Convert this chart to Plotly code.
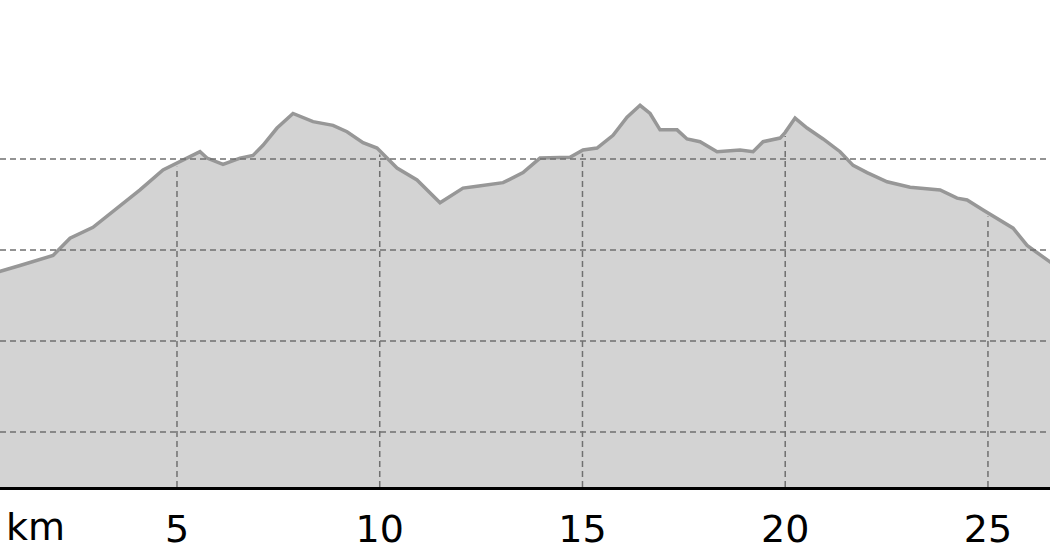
import numpy as np
import plotly.graph_objects as go

# distance along the route (km) and elevation (m)
distance_km = [0.0, 0.635, 1.128, 1.943, 2.362, 2.929, 3.594, 4.088, 4.655, 5.074,
               5.567, 5.740, 6.135, 6.554, 6.875, 7.121, 7.467, 7.861, 8.355, 8.848,
               9.193, 9.588, 9.933, 10.426, 10.919, 11.487, 12.054, 12.399, 13.041, 13.534,
               13.953, 14.693, 15.014, 15.359, 15.754, 16.099, 16.420, 16.667, 16.913, 17.333,
               17.579, 17.900, 18.319, 18.886, 19.207, 19.454, 19.873, 19.996, 20.243, 20.539,
               20.934, 21.353, 21.674, 22.019, 22.512, 23.080, 23.819, 24.239, 24.485, 24.880,
               25.299, 25.620, 25.965, 26.532, 26.9]
elevation_m = [568, 576, 583, 594, 613, 625, 649, 666, 688, 697,
               708, 701, 694, 701, 704, 715, 734, 750, 741, 737,
               730, 718, 712, 690, 677, 652, 668, 670, 674, 685,
               701, 702, 710, 712, 726, 746, 759, 750, 732, 732,
               722, 719, 708, 710, 708, 719, 723, 729, 745, 734,
               722, 708, 693, 685, 675, 669, 666, 657, 655, 644,
               633, 624, 605, 586, 575]

x_ticks = [5, 10, 15, 20, 25]
y_grid = [400, 500, 600, 700]

x_range = [0.635, 26.53]
y_range = [339.6, 874.7]

grid_style = dict(color="#707070", width=1.5, dash="6px,4px")

fig = go.Figure()

# elevation profile
fig.add_trace(go.Scatter(
    x=distance_km, y=elevation_m,
    mode="lines",
    fill="tozeroy",
    fillcolor="#d3d3d3",
    line=dict(color="#979797", width=3.5),
    hoverinfo="skip",
    showlegend=False,
))

# horizontal grid lines, drawn over the fill
for g in y_grid:
    fig.add_trace(go.Scatter(
        x=x_range, y=[g, g], mode="lines", line=grid_style,
        hoverinfo="skip", showlegend=False,
    ))

# vertical grid lines only run up to the profile
for t in x_ticks:
    top = float(np.interp(t, distance_km, elevation_m)) - 4
    fig.add_trace(go.Scatter(
        x=[t, t], y=[y_range[0], top], mode="lines", line=grid_style,
        hoverinfo="skip", showlegend=False,
    ))

fig.update_layout(
    width=1050, height=560,
    margin=dict(l=0, r=0, t=0, b=73),
    paper_bgcolor="white", plot_bgcolor="white",
    font=dict(family="DejaVu Sans", size=38, color="black"),
    xaxis=dict(
        range=x_range,
        tickvals=x_ticks,
        ticks="",
        ticklabelstandoff=7,
        showgrid=False,
        zeroline=False,
        showline=True, linecolor="black", linewidth=2.5,
        layer="above traces",
    ),
    yaxis=dict(
        range=y_range,
        showticklabels=False,
        showgrid=False,
        zeroline=False,
        showline=False,
    ),
    annotations=[dict(
        text="km", xref="paper", yref="paper", x=35 / 1050, y=-40 / 487,
        xanchor="center", yanchor="middle", showarrow=False,
        font=dict(family="DejaVu Sans", size=38, color="black"),
    )],
)

fig.write_html("out.html", config={"displayModeBar": False},
               post_script="document.body.style.margin='0px';")
